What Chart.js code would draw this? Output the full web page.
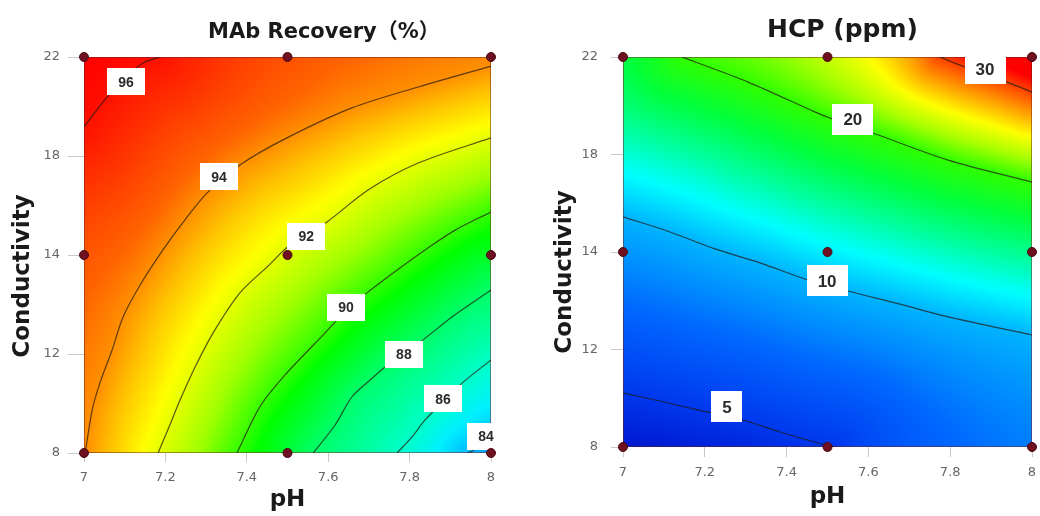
<!DOCTYPE html>
<html>
<head>
<meta charset="utf-8">
<script src="https://cdn.jsdelivr.net/npm/chart.js@4.4.1/dist/chart.umd.min.js"></script>
<style>
  html, body { margin: 0; padding: 0; background: #fff; }
  #wrap { position: relative; width: 1040px; height: 516px; overflow: hidden; }
  canvas { position: absolute; top: 0; }
  #recoveryChart { left: 0; }
  #hcpChart { left: 520px; }
</style>
</head>
<body>
<div id="wrap">
  <canvas id="recoveryChart" width="520" height="516"></canvas>
  <canvas id="hcpChart" width="520" height="516"></canvas>
</div>
<script>
// axes
const phTicks = [7, 7.2, 7.4, 7.6, 7.8, 8];
const phTickLabels = ['7', '7.2', '7.4', '7.6', '7.8', '8'];
const condTickLabels = ['8', '12', '14', '18', '22'];

// design points (3x3)
const designPH = [7, 7.5, 8, 7, 7.5, 8, 7, 7.5, 8];
const designCond = [22, 22, 22, 15, 15, 15, 8, 8, 8];

// MAb Recovery contour lines as [pH, conductivity]
const recoveryLevels = [84, 86, 88, 90, 92, 94, 96];
const rec84 = [[7.943, 8.0], [7.973, 8.21], [8.0, 8.46]];
const rec86 = [[7.769, 8.0], [7.806, 8.57], [7.838, 9.17], [7.887, 9.87], [7.929, 10.47], [8.0, 11.29]];
const rec88 = [[7.563, 8.0], [7.617, 8.99], [7.658, 9.98], [7.703, 10.58], [7.740, 11.04], [7.833, 12.0], [7.904, 12.81], [8.0, 13.76]];
const rec90 = [[7.376, 8.0], [7.432, 9.63], [7.494, 10.76], [7.592, 12.24], [7.641, 12.99], [7.695, 13.66], [7.776, 14.54], [7.838, 15.18], [7.912, 15.88], [8.0, 16.52]];
const rec92 = [[7.182, 8.0], [7.211, 8.99], [7.236, 9.87], [7.273, 11.04], [7.317, 12.24], [7.383, 13.66], [7.450, 14.58], [7.506, 15.35], [7.597, 16.17], [7.698, 17.30], [7.821, 18.25], [8.0, 19.14]];
const rec94 = [[7.003, 8.0], [7.020, 9.52], [7.039, 10.47], [7.069, 11.64], [7.096, 12.81], [7.138, 13.94], [7.194, 15.18], [7.248, 16.24], [7.302, 17.19], [7.383, 18.18], [7.489, 19.07], [7.658, 20.20], [7.821, 20.94], [8.0, 21.68]];
const rec96 = [[7.0, 19.53], [7.057, 20.59], [7.101, 21.26], [7.145, 21.79], [7.187, 22.0]];
const recLabelPH = [7.988, 7.882, 7.786, 7.644, 7.546, 7.332, 7.103];
const recLabelCond = [8.60, 9.91, 11.50, 13.16, 15.67, 17.76, 21.12];

// HCP contour lines
const hcpLevels = [5, 10, 20, 30];
const hcp5 = [[7.0, 9.94], [7.090, 9.65], [7.183, 9.33], [7.293, 8.97], [7.384, 8.54], [7.469, 8.18], [7.518, 8.0]];
const hcp10 = [[7.0, 16.26], [7.115, 15.72], [7.225, 15.11], [7.335, 14.61], [7.445, 14.03], [7.550, 13.60], [7.677, 13.13], [7.795, 12.67], [8.0, 12.02]];
const hcp20 = [[7.144, 22.0], [7.306, 21.10], [7.469, 20.03], [7.513, 19.77], [7.611, 19.27], [7.795, 18.30], [8.0, 17.51]];
const hcp30 = [[7.775, 22.0], [7.829, 21.68], [7.885, 21.39], [7.939, 21.10], [8.0, 20.74]];
const hcpLabelPH = [7.254, 7.499, 7.562, 7.885];
const hcpLabelCond = [9.44, 13.96, 19.77, 21.57];

// colour ramps (value -> colour)
const recoveryRamp = [[83, '#0060ff'], [84, '#00b8ff'], [85, '#00f0ff'], [86, '#00ffc8'], [88, '#00ff6a'], [89.5, '#00ff00'], [91, '#a0ff00'], [92.4, '#ffff00'], [93.3, '#ffc400'], [94, '#ff9000'], [94.4, '#ff6400'], [95.2, '#ff3800'], [96, '#ff1000'], [96.6, '#ff0000']];
const hcpRamp = [[3, '#0010c8'], [5, '#0038ee'], [7.5, '#0068ff'], [10, '#00b4ff'], [12.5, '#00ffff'], [15, '#00ff9a'], [17.5, '#00ff3c'], [20, '#30ff00'], [22.5, '#a8ff00'], [25, '#ffff00'], [27.5, '#ffa000'], [30, '#ff4000'], [31.5, '#ff0000']];

function hexToRgb(h) {
  return [parseInt(h.slice(1, 3), 16), parseInt(h.slice(3, 5), 16), parseInt(h.slice(5, 7), 16)];
}

function colorAt(stops, v) {
  if (v <= stops[0][0]) return stops[0][1];
  for (let i = 1; i < stops.length; i++) {
    if (v <= stops[i][0]) {
      const t = (v - stops[i - 1][0]) / (stops[i][0] - stops[i - 1][0]);
      const a = stops[i - 1][1], b = stops[i][1];
      return [a[0] + (b[0] - a[0]) * t, a[1] + (b[1] - a[1]) * t, a[2] + (b[2] - a[2]) * t];
    }
  }
  return stops[stops.length - 1][1];
}

// distance to a polyline, plus which side of it (positive = higher values)
function nearestInfo(poly, px, py) {
  let best = Infinity, side = 0;
  for (let s = 0; s < poly.length - 1; s++) {
    const ax = poly[s][0], ay = poly[s][1];
    const dx = poly[s + 1][0] - ax, dy = poly[s + 1][1] - ay;
    let t = ((px - ax) * dx + (py - ay) * dy) / (dx * dx + dy * dy);
    t = Math.max(0, Math.min(1, t));
    const d = Math.hypot(px - (ax + t * dx), py - (ay + t * dy));
    if (d < best) {
      best = d;
      side = dy * (px - ax) - dx * (py - ay);
    }
  }
  return { d: best, side: side };
}

// value between the two contour lines that bracket the pixel
function fieldValue(polys, levels, px, py) {
  const info = polys.map(p => nearestInfo(p, px, py));
  const n = levels.length;
  let k = 0;
  info.forEach(f => { if (f.side > 0) k++; });
  if (k === 0) {
    const g = Math.max(info[1].d - info[0].d, 20);
    return levels[0] - (levels[1] - levels[0]) * info[0].d / g;
  }
  if (k === n) {
    const g = Math.max(info[n - 2].d - info[n - 1].d, 20);
    return levels[n - 1] + (levels[n - 1] - levels[n - 2]) * info[n - 1].d / g;
  }
  const lo = info[k - 1], hi = info[k];
  return levels[k - 1] + (levels[k] - levels[k - 1]) * lo.d / (lo.d + hi.d);
}

function contourPlugin(spec) {
  return {
    id: 'contour',
    beforeDatasetsDraw(chart) {
      const { ctx, chartArea: a, scales } = chart;
      const polys = spec.lines.map(l => l.map(p => [scales.x.getPixelForValue(p[0]), scales.y.getPixelForValue(p[1])]));
      const stops = spec.ramp.map(s => [s[0], hexToRgb(s[1])]);
      const step = 2;
      const w = Math.ceil((a.right - a.left) / step) + 1;
      const h = Math.ceil((a.bottom - a.top) / step) + 1;
      const off = document.createElement('canvas');
      off.width = w; off.height = h;
      const octx = off.getContext('2d');
      const img = octx.createImageData(w, h);
      for (let j = 0; j < h; j++) {
        for (let i = 0; i < w; i++) {
          const c = colorAt(stops, fieldValue(polys, spec.levels, a.left + i * step, a.top + j * step));
          const k = (j * w + i) * 4;
          img.data[k] = c[0]; img.data[k + 1] = c[1]; img.data[k + 2] = c[2]; img.data[k + 3] = 255;
        }
      }
      octx.putImageData(img, 0, 0);
      ctx.save();
      ctx.beginPath();
      ctx.rect(a.left, a.top, a.right - a.left, a.bottom - a.top);
      ctx.clip();
      ctx.imageSmoothingEnabled = true;
      ctx.drawImage(off, a.left - step / 2, a.top - step / 2, w * step, h * step);
      ctx.restore();
      ctx.save();
      ctx.strokeStyle = 'rgba(110,30,30,0.5)';
      ctx.lineWidth = 1;
      ctx.strokeRect(a.left + 0.5, a.top + 0.5, a.right - a.left - 1, a.bottom - a.top - 1);
      ctx.restore();
    },
    afterDatasetDraw(chart, args) {
      // labels go on top of the contour lines, under the design points
      if (args.index !== 1) return;
      const { ctx, scales } = chart;
      ctx.save();
      ctx.font = spec.labelFont;
      ctx.textAlign = 'center';
      ctx.textBaseline = 'middle';
      spec.levels.forEach((lv, i) => {
        const x = scales.x.getPixelForValue(spec.labelX[i]);
        const y = scales.y.getPixelForValue(spec.labelY[i]);
        const txt = String(lv);
        const bw = ctx.measureText(txt).width + spec.labelPad * 2;
        const bh = spec.labelH;
        ctx.fillStyle = '#ffffff';
        ctx.fillRect(Math.round(x - bw / 2), Math.round(y - bh / 2), Math.round(bw), bh);
        ctx.fillStyle = '#2b2b2b';
        ctx.fillText(txt, x, y + 1);
      });
      ctx.restore();
    },
    afterDraw(chart) {
      const ctx = chart.ctx;
      ctx.save();
      ctx.font = spec.titleFont;
      ctx.fillStyle = '#1a1a1a';
      ctx.textAlign = 'left';
      ctx.textBaseline = 'alphabetic';
      ctx.fillText(spec.title, spec.titleX, spec.titleY);
      // y axis title, placed a little below the middle as in the picture
      ctx.font = 'bold 23px "DejaVu Sans", sans-serif';
      ctx.textAlign = 'center';
      ctx.textBaseline = 'middle';
      ctx.translate(spec.yTitleX, spec.yTitleY);
      ctx.rotate(-Math.PI / 2);
      ctx.fillText('Conductivity', 0, 0);
      ctx.restore();
    }
  };
}

function buildChart(id, spec) {
  const lineSets = spec.lines.map((l, i) => ({
    label: String(spec.levels[i]),
    data: l.map(p => ({ x: p[0], y: p[1] })),
    showLine: true,
    pointRadius: 0,
    borderColor: 'rgba(35,25,15,0.72)',
    borderWidth: 1.2,
    tension: 0.3,
    fill: false
  }));
  const points = {
    label: 'design',
    data: designPH.map((v, i) => ({ x: v, y: designCond[i] })),
    pointRadius: 4.5,
    backgroundColor: '#6e1020',
    borderColor: '#4c0812',
    borderWidth: 1,
    showLine: false,
    clip: false
  };
  const tickFont = { family: '"DejaVu Sans", sans-serif', size: 13 };
  const axisFont = { family: '"DejaVu Sans", sans-serif', size: 23, weight: 'bold' };
  return new Chart(document.getElementById(id), {
    type: 'scatter',
    data: { datasets: [points, ...lineSets] },
    options: {
      responsive: false,
      animation: false,
      events: [],
      layout: { padding: spec.padding },
      plugins: { legend: { display: false }, tooltip: { enabled: false } },
      scales: {
        x: {
          type: 'linear',
          min: 7, max: 8,
          afterBuildTicks: s => { s.ticks = phTicks.map(v => ({ value: v })); },
          afterFit: s => { s.height = spec.xAxisHeight; s.paddingLeft = 0; s.paddingRight = 0; },
          ticks: { font: tickFont, color: '#666', maxRotation: 0, padding: 8,
                   callback: (v, i) => phTickLabels[i] },
          grid: { drawOnChartArea: false, drawTicks: true, tickLength: spec.xTickLength, color: '#c8c8c8' },
          border: { display: false },
          title: { display: true, text: 'pH', font: axisFont, color: '#1a1a1a',
                   padding: { top: 0, bottom: spec.xTitlePad } }
        },
        y: {
          type: 'linear',
          min: 8, max: 22,
          afterBuildTicks: s => {
            const n = condTickLabels.length;
            s.ticks = condTickLabels.map((t, i) => ({ value: 8 + i * (22 - 8) / (n - 1) }));
          },
          afterFit: s => { s.width = spec.yAxisWidth; s.paddingTop = 0; s.paddingBottom = 0; },
          ticks: { font: tickFont, color: '#666', padding: spec.yTickPad,
                   callback: (v, i) => condTickLabels[i] },
          grid: { drawOnChartArea: false, drawTicks: true, tickLength: spec.yTickLength, color: '#c8c8c8' },
          border: { display: false },
          title: { display: false }
        }
      }
    },
    plugins: [contourPlugin(spec)]
  });
}

buildChart('recoveryChart', {
  lines: [rec84, rec86, rec88, rec90, rec92, rec94, rec96],
  levels: recoveryLevels,
  labelX: recLabelPH, labelY: recLabelCond,
  ramp: recoveryRamp,
  labelFont: 'bold 14px "Liberation Sans", Arial, sans-serif', labelPad: 11, labelH: 27,
  title: 'MAb Recovery（%）', titleFont: 'bold 21px "DejaVu Sans", "Noto Sans CJK SC", sans-serif',
  titleX: 208, titleY: 38,
  padding: { left: 0, right: 29, top: 57, bottom: 0 },
  xAxisHeight: 63, yAxisWidth: 84,
  xTickLength: 9, yTickLength: 16, yTickPad: 8,
  xTitlePad: 2, yTitleX: 23, yTitleY: 276
});

buildChart('hcpChart', {
  lines: [hcp5, hcp10, hcp20, hcp30],
  levels: hcpLevels,
  labelX: hcpLabelPH, labelY: hcpLabelCond,
  ramp: hcpRamp,
  labelFont: 'bold 17px "Liberation Sans", Arial, sans-serif', labelPad: 11, labelH: 31,
  title: 'HCP (ppm)', titleFont: 'bold 25px "DejaVu Sans", sans-serif',
  titleX: 247, titleY: 37,
  padding: { left: 0, right: 8, top: 57, bottom: 0 },
  xAxisHeight: 69, yAxisWidth: 103,
  xTickLength: 10, yTickLength: 12, yTickPad: 13,
  xTitlePad: 5, yTitleX: 45, yTitleY: 272
});
</script>
</body>
</html>
